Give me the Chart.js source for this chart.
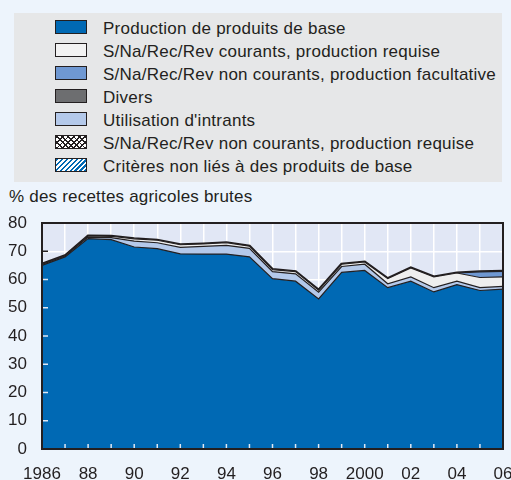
<!DOCTYPE html>
<html>
<head>
<meta charset="utf-8">
<script src="https://cdn.jsdelivr.net/npm/chart.js@4"></script>
<style>
    body { margin: 0; background: #edf4fc; overflow: hidden; width: 511px; height: 480px; position: relative;
           font-family: "Liberation Sans", Arial, sans-serif; color: #231f20; }
    #legendBox { position: absolute; left: 14px; top: 13px; width: 488px; height: 169px; background: #e6e7e8; }
    .item { position: absolute; left: 41px; height: 23px; font-size: 17px; line-height: 23px; white-space: nowrap; letter-spacing: 0.25px; }
    .sw { position: absolute; left: 0; top: 3px; width: 30px; height: 12px; border: 1px solid #231f20; }
    .item span { position: absolute; left: 48px; top: 0; }
    #yTitle { position: absolute; left: 9px; top: 187px; font-size: 17px; line-height: 20px; white-space: nowrap; letter-spacing: 0.2px; }
    #wrap { position: absolute; left: 0; top: 0; width: 530px; height: 480px; }
</style>
</head>
<body>
<div id="legendBox"></div>
<div id="yTitle">% des recettes agricoles brutes</div>
<div id="wrap"><canvas id="myChart" width="530" height="480"></canvas></div>
<script>
// Années et étiquettes de l'axe
const years = [1986, 1987, 1988, 1989, 1990, 1991, 1992, 1993, 1994, 1995, 1996,
               1997, 1998, 1999, 2000, 2001, 2002, 2003, 2004, 2005, 2006];
const xTickLabels = ['1986', '', '88', '', '90', '', '92', '', '94', '', '96',
                     '', '98', '', '2000', '', '02', '', '04', '', '06'];
const yTicks = [0, 10, 20, 30, 40, 50, 60, 70, 80];

// Séries (% des recettes agricoles brutes)
const produitsBase = [65.0, 68.0, 74.5, 74.1, 71.5, 70.9, 69.1, 69.0, 69.0, 68.0, 60.3,
                      59.4, 53.1, 62.5, 63.2, 57.1, 59.4, 55.6, 58.2, 56.1, 56.6];
const intrants = [0.3, 0.3, 0.5, 0.7, 2.1, 2.1, 2.3, 2.7, 3.1, 3.0, 2.5,
                  2.6, 2.4, 2.1, 2.2, 1.4, 1.5, 1.5, 1.2, 1.0, 1.0];
const courantsRequise = [0.1, 0.1, 0.4, 0.5, 0.8, 0.9, 0.9, 0.9, 0.9, 0.8, 0.7,
                         0.8, 0.7, 0.8, 0.8, 1.8, 3.2, 3.8, 2.9, 3.6, 3.3];
const nonCourantsFacult = [0, 0, 0, 0, 0, 0, 0, 0, 0, 0, 0,
                           0, 0, 0, 0, 0, 0, 0, 0, 2.0, 2.0];
const divers = [0, 0, 0, 0, 0, 0, 0, 0, 0, 0, 0,
                0, 0, 0, 0, 0, 0, 0, 0, 0, 0];
const nonCourantsRequise = [0, 0, 0, 0, 0, 0, 0, 0, 0, 0, 0,
                            0, 0, 0, 0, 0, 0, 0, 0, 0, 0];
const nonLies = [0, 0, 0, 0, 0, 0, 0, 0, 0, 0, 0,
                 0, 0, 0, 0, 0, 0, 0, 0, 0, 0];

const dark = '#231f20';
const tickFont = { family: '"Liberation Sans", Arial, sans-serif', size: 17 };

function makePattern(kind) {
    let c = document.createElement('canvas');
    c.width = 6; c.height = 6;
    let g = c.getContext('2d');
    g.fillStyle = '#ffffff';
    g.fillRect(0, 0, 6, 6);
    g.strokeStyle = kind === 'hatch' ? '#0069b4' : dark;
    g.lineWidth = 1.2;
    g.beginPath();
    g.moveTo(0, 6); g.lineTo(6, 0);
    if (kind !== 'hatch') { g.moveTo(0, 0); g.lineTo(6, 6); }
    g.stroke();
    return g.createPattern(c, 'repeat');
}

// Légende (ordre affiché)
const legendItems = [
    { label: 'Production de produits de base', css: 'background:#0069b4' },
    { label: 'S/Na/Rec/Rev courants, production requise', css: 'background:#f2f2f2' },
    { label: 'S/Na/Rec/Rev non courants, production facultative', css: 'background:#6f98d2' },
    { label: 'Divers', css: 'background:#6d6e70' },
    { label: "Utilisation d'intrants", css: 'background:#b4c9ea' },
    { label: 'S/Na/Rec/Rev non courants, production requise',
      css: 'background-color:#fff;background-image:repeating-linear-gradient(45deg, #231f20 0 1.2px, transparent 1.2px 4px), repeating-linear-gradient(-45deg, #231f20 0 1.2px, transparent 1.2px 4px)' },
    { label: 'Critères non liés à des produits de base',
      css: 'background-color:#fff;background-image:repeating-linear-gradient(-45deg, #0069b4 0 1.5px, #fff 1.5px 3.5px)' }
];

let box = document.getElementById('legendBox');
legendItems.forEach(function(it, i) {
    let d = document.createElement('div');
    d.className = 'item';
    d.style.top = (4 + i * 23) + 'px';
    d.innerHTML = '<div class="sw" style="' + it.css + '"></div><span></span>';
    d.querySelector('span').textContent = it.label;
    box.appendChild(d);
});

// Cadre et petites graduations
const framePlugin = {
    id: 'frame',
    afterDatasetsDraw(chart) {
        let ctx = chart.ctx;
        let a = chart.chartArea;
        let xs = chart.scales.x, ys = chart.scales.y;
        ctx.save();
        ctx.lineWidth = 1.5;
        for (let i = 1; i < years.length - 1; i++) {
            let x = xs.getPixelForValue(i);
            ctx.strokeStyle = '#dfe8f5';
            ctx.beginPath(); ctx.moveTo(x, a.bottom); ctx.lineTo(x, a.bottom - 5); ctx.stroke();
        }
        yTicks.forEach(function(v) {
            if (v === 0 || v === 80) return;
            let y = ys.getPixelForValue(v);
            ctx.strokeStyle = v < produitsBase[0] ? '#dfe8f5' : dark;
            ctx.beginPath(); ctx.moveTo(a.left, y); ctx.lineTo(a.left + 6, y); ctx.stroke();
        });
        ctx.strokeStyle = dark;
        ctx.lineWidth = 2;
        ctx.strokeRect(a.left, a.top, a.right - a.left, a.bottom - a.top);
        ctx.restore();
    }
};

const bgPlugin = {
    id: 'plotBg',
    beforeDraw(chart) {
        let a = chart.chartArea;
        chart.ctx.save();
        chart.ctx.fillStyle = '#e1e7f5';
        chart.ctx.fillRect(a.left, a.top, a.right - a.left, a.bottom - a.top);
        chart.ctx.restore();
    }
};

function ds(label, data, color, fill, width) {
    return {
        label: label,
        data: data,
        backgroundColor: color,
        borderColor: dark,
        borderWidth: width || 1.2,
        fill: fill,
        pointRadius: 0,
        tension: 0
    };
}

let ctx = document.getElementById('myChart').getContext('2d');
new Chart(ctx, {
    type: 'line',
    data: {
        labels: years.map(String),
        datasets: [
            ds('Production de produits de base', produitsBase, '#0069b4', 'origin'),
            ds("Utilisation d'intrants", intrants, '#b4c9ea', '-1'),
            ds('S/Na/Rec/Rev courants, production requise', courantsRequise, '#eeeeee', '-1'),
            ds('S/Na/Rec/Rev non courants, production facultative', nonCourantsFacult, '#6f98d2', '-1'),
            ds('Divers', divers, '#6d6e70', '-1'),
            ds('S/Na/Rec/Rev non courants, production requise', nonCourantsRequise, makePattern('cross'), '-1'),
            ds('Critères non liés à des produits de base', nonLies, makePattern('hatch'), '-1', 3)
        ]
    },
    options: {
        responsive: false,
        animation: false,
        layout: { padding: { left: 0, top: 223, right: 27, bottom: 0 } },
        plugins: { legend: { display: false }, tooltip: { enabled: false } },
        scales: {
            x: {
                offset: false,
                grid: { color: '#ffffff', lineWidth: 1.5, drawTicks: false },
                border: { display: false },
                ticks: {
                    autoSkip: false, maxRotation: 0, padding: 15,
                    color: dark, font: tickFont,
                    callback: function(v, i) { return xTickLabels[i]; }
                },
                afterFit: function(s) { s.height = 31; }
            },
            y: {
                stacked: true,
                min: 0, max: 80,
                grid: { color: '#ffffff', lineWidth: 1.5, drawTicks: false },
                border: { display: false },
                ticks: {
                    stepSize: 10, padding: 15,
                    color: dark, font: tickFont
                },
                afterFit: function(s) { s.width = 42; }
            }
        }
    },
    plugins: [bgPlugin, framePlugin]
});
</script>
</body>
</html>
